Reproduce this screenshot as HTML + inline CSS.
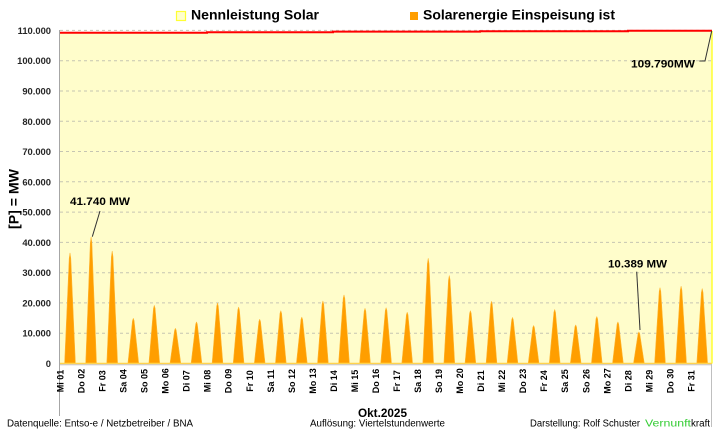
<!DOCTYPE html>
<html><head><meta charset="utf-8"><style>
html,body{margin:0;padding:0;background:#fff;}
svg{display:block;font-family:"Liberation Sans",sans-serif;}
</style></head><body>
<svg width="718" height="430" viewBox="0 0 718 430" xmlns="http://www.w3.org/2000/svg">
<rect width="718" height="430" fill="#fff"/>
<!-- area fill -->
<path d="M59.5,32.8 L207,32.8 L207,32.2 L333,32.2 L333,31.6 L480,31.6 L480,31.2 L628,31.2 L628,30.8 L712,30.8 L712,363.5 L59.5,363.5 Z" fill="#FFFDCB"/>
<!-- gridlines -->
<g stroke="#C6C5B2" stroke-width="1" stroke-dasharray="3,3">
<line x1="60" y1="333.2" x2="711" y2="333.2"/>
<line x1="60" y1="302.9" x2="711" y2="302.9"/>
<line x1="60" y1="272.7" x2="711" y2="272.7"/>
<line x1="60" y1="242.4" x2="711" y2="242.4"/>
<line x1="60" y1="212.1" x2="711" y2="212.1"/>
<line x1="60" y1="181.8" x2="711" y2="181.8"/>
<line x1="60" y1="151.5" x2="711" y2="151.5"/>
<line x1="60" y1="121.3" x2="711" y2="121.3"/>
<line x1="60" y1="91.0" x2="711" y2="91.0"/>
<line x1="60" y1="60.7" x2="711" y2="60.7"/>
<line x1="60" y1="30.4" x2="711" y2="30.4"/>
</g>
<!-- peaks -->
<g fill="#FF9E00" stroke="#FFB52E" stroke-width="0.6" stroke-linejoin="round">
<path d="M64.6,363.5L69.2,258.5L70,253L70.8,258.5L75.4,363.5Z"/>
<path d="M85.7,363.5L90.3,243.4L91.1,237.1L91.9,243.4L96.5,363.5Z"/>
<path d="M106.8,363.5L111.4,256.8L112.2,251.2L113,256.8L117.6,363.5Z"/>
<path d="M127.9,363.5L132.5,320.7L133.3,318.4L134.1,320.7L138.7,363.5Z"/>
<path d="M148.9,363.5L153.5,308.3L154.3,305.4L155.1,308.3L159.7,363.5Z"/>
<path d="M170,363.5L174.6,330.2L175.4,328.4L176.2,330.2L180.8,363.5Z"/>
<path d="M191.1,363.5L195.7,324.1L196.5,322L197.3,324.1L201.9,363.5Z"/>
<path d="M212.1,363.5L216.7,306.2L217.5,303.2L218.3,306.2L222.9,363.5Z"/>
<path d="M233.2,363.5L237.8,310L238.6,307.2L239.4,310L244,363.5Z"/>
<path d="M254.3,363.5L258.9,321.5L259.7,319.3L260.5,321.5L265.1,363.5Z"/>
<path d="M275.4,363.5L280,313.4L280.8,310.8L281.6,313.4L286.2,363.5Z"/>
<path d="M296.4,363.5L301,319.5L301.8,317.2L302.6,319.5L307.2,363.5Z"/>
<path d="M317.5,363.5L322.1,304.2L322.9,301.1L323.7,304.2L328.3,363.5Z"/>
<path d="M338.6,363.5L343.2,298.5L344,295.1L344.8,298.5L349.4,363.5Z"/>
<path d="M359.6,363.5L364.2,311.2L365,308.4L365.8,311.2L370.4,363.5Z"/>
<path d="M380.7,363.5L385.3,310.6L386.1,307.8L386.9,310.6L391.5,363.5Z"/>
<path d="M401.8,363.5L406.4,314.9L407.2,312.3L408,314.9L412.6,363.5Z"/>
<path d="M422.8,363.5L427.4,263.7L428.2,258.4L429,263.7L433.6,363.5Z"/>
<path d="M443.9,363.5L448.5,280.1L449.3,275.7L450.1,280.1L454.7,363.5Z"/>
<path d="M465,363.5L469.6,313.4L470.4,310.8L471.2,313.4L475.8,363.5Z"/>
<path d="M486.1,363.5L490.7,304.5L491.5,301.4L492.3,304.5L496.9,363.5Z"/>
<path d="M507.1,363.5L511.7,319.8L512.5,317.5L513.3,319.8L517.9,363.5Z"/>
<path d="M528.2,363.5L532.8,327.5L533.6,325.6L534.4,327.5L539,363.5Z"/>
<path d="M549.3,363.5L553.9,312.3L554.7,309.6L555.5,312.3L560.1,363.5Z"/>
<path d="M570.3,363.5L574.9,326.9L575.7,325L576.5,326.9L581.1,363.5Z"/>
<path d="M591.4,363.5L596,318.9L596.8,316.6L597.6,318.9L602.2,363.5Z"/>
<path d="M612.5,363.5L617.1,324.1L617.9,322L618.7,324.1L623.3,363.5Z"/>
<path d="M633.5,363.5L638.1,333.6L638.9,332L639.7,333.6L644.3,363.5Z"/>
<path d="M654.6,363.5L659.2,291.6L660,287.8L660.8,291.6L665.4,363.5Z"/>
<path d="M675.7,363.5L680.3,290.2L681.1,286.3L681.9,290.2L686.5,363.5Z"/>
<path d="M696.8,363.5L701.4,292.4L702.2,288.7L703,292.4L707.6,363.5Z"/>
</g>
<!-- red capacity line -->
<path d="M59.5,32.8 L207,32.8 L207,32.2 L333,32.2 L333,31.6 L480,31.6 L480,31.2 L628,31.2 L628,30.8 L712,30.8" fill="none" stroke="#FF0000" stroke-width="2"/>
<line x1="712" y1="31" x2="712" y2="363.5" stroke="#FFFF33" stroke-width="1.5"/>
<!-- axes -->
<line x1="59.5" y1="363.5" x2="712" y2="363.5" stroke="#FFD34E" stroke-width="1.5"/>
<line x1="59.5" y1="364.8" x2="712" y2="364.8" stroke="#BDBDC8" stroke-width="0.8"/>
<line x1="59.5" y1="30" x2="59.5" y2="416" stroke="#A6A6A6" stroke-width="1"/>
<line x1="711.5" y1="364" x2="711.5" y2="427" stroke="#BFBFBF" stroke-width="1"/>
<!-- y tick labels -->
<g font-size="9.4" font-weight="bold" fill="#262626" text-anchor="end" dominant-baseline="central">
<text x="51" y="363.5">0</text>
<text x="51" y="333.2">10.000</text>
<text x="51" y="302.9">20.000</text>
<text x="51" y="272.7">30.000</text>
<text x="51" y="242.4">40.000</text>
<text x="51" y="212.1">50.000</text>
<text x="51" y="181.8">60.000</text>
<text x="51" y="151.5">70.000</text>
<text x="51" y="121.3">80.000</text>
<text x="51" y="91.0">90.000</text>
<text x="51" y="60.7">100.000</text>
<text x="51" y="30.4">110.000</text>
</g>
<!-- y axis title -->
<text transform="translate(18.5,199) rotate(-90)" font-size="14" font-weight="bold" fill="#000" text-anchor="middle" textLength="60" lengthAdjust="spacingAndGlyphs">[P]  =  MW</text>
<!-- x labels -->
<g font-size="9" font-weight="bold" fill="#000" text-anchor="middle" dominant-baseline="central">
<text transform="translate(60.5,381) rotate(-90)">Mi 01</text>
<text transform="translate(81.5,381) rotate(-90)">Do 02</text>
<text transform="translate(102.6,381) rotate(-90)">Fr 03</text>
<text transform="translate(123.6,381) rotate(-90)">Sa 04</text>
<text transform="translate(144.6,381) rotate(-90)">So 05</text>
<text transform="translate(165.7,381) rotate(-90)">Mo 06</text>
<text transform="translate(186.7,381) rotate(-90)">Di 07</text>
<text transform="translate(207.7,381) rotate(-90)">Mi 08</text>
<text transform="translate(228.7,381) rotate(-90)">Do 09</text>
<text transform="translate(249.8,381) rotate(-90)">Fr 10</text>
<text transform="translate(270.8,381) rotate(-90)">Sa 11</text>
<text transform="translate(291.8,381) rotate(-90)">So 12</text>
<text transform="translate(312.9,381) rotate(-90)">Mo 13</text>
<text transform="translate(333.9,381) rotate(-90)">Di 14</text>
<text transform="translate(354.9,381) rotate(-90)">Mi 15</text>
<text transform="translate(376.0,381) rotate(-90)">Do 16</text>
<text transform="translate(397.0,381) rotate(-90)">Fr 17</text>
<text transform="translate(418.0,381) rotate(-90)">Sa 18</text>
<text transform="translate(439.0,381) rotate(-90)">So 19</text>
<text transform="translate(460.1,381) rotate(-90)">Mo 20</text>
<text transform="translate(481.1,381) rotate(-90)">Di 21</text>
<text transform="translate(502.1,381) rotate(-90)">Mi 22</text>
<text transform="translate(523.2,381) rotate(-90)">Do 23</text>
<text transform="translate(544.2,381) rotate(-90)">Fr 24</text>
<text transform="translate(565.2,381) rotate(-90)">Sa 25</text>
<text transform="translate(586.3,381) rotate(-90)">So 26</text>
<text transform="translate(607.3,381) rotate(-90)">Mo 27</text>
<text transform="translate(628.3,381) rotate(-90)">Di 28</text>
<text transform="translate(649.3,381) rotate(-90)">Mi 29</text>
<text transform="translate(670.4,381) rotate(-90)">Do 30</text>
<text transform="translate(691.4,381) rotate(-90)">Fr 31</text>
</g>
<!-- legend -->
<rect x="176.5" y="11.5" width="9" height="9" fill="#FFFFCC" stroke="#FFFF33" stroke-width="1.2"/>
<text x="191" y="19.5" font-size="14" font-weight="bold" fill="#000" textLength="128" lengthAdjust="spacingAndGlyphs">Nennleistung Solar</text>
<rect x="410" y="12" width="8" height="8" fill="#FF9E00"/>
<text x="423" y="19.5" font-size="14" font-weight="bold" fill="#000" textLength="192" lengthAdjust="spacingAndGlyphs">Solarenergie Einspeisung ist</text>
<!-- annotations -->
<g stroke="#333" stroke-width="1" fill="none">
<line x1="100" y1="211" x2="92.3" y2="236.7"/>
<line x1="636.7" y1="271.7" x2="640" y2="330"/>
<polyline points="699.3,61 705,61 711.7,31"/>
</g>
<g font-size="11" font-weight="bold" fill="#000">
<text x="70" y="205" textLength="60" lengthAdjust="spacingAndGlyphs">41.740 MW</text>
<text x="608" y="267.3" textLength="59" lengthAdjust="spacingAndGlyphs">10.389 MW</text>
<text x="631" y="67.7" textLength="64" lengthAdjust="spacingAndGlyphs">109.790MW</text>
</g>
<!-- footer -->
<g font-size="10" fill="#000">
<text x="7" y="426.5" textLength="186" lengthAdjust="spacingAndGlyphs">Datenquelle:  Entso-e  / Netzbetreiber / BNA</text>
<text x="358" y="417" font-size="11.5" font-weight="bold" textLength="49" lengthAdjust="spacingAndGlyphs">Okt.2025</text>
<text x="310" y="426.5" textLength="135" lengthAdjust="spacingAndGlyphs">Auflösung: Viertelstundenwerte</text>
<text x="530" y="426.5" textLength="110" lengthAdjust="spacingAndGlyphs">Darstellung:  Rolf Schuster</text>
<text x="645" y="426.5" fill="#33CC33" textLength="46" lengthAdjust="spacingAndGlyphs">Vernunft</text>
<text x="691" y="426.5" textLength="19" lengthAdjust="spacingAndGlyphs">kraft</text>
</g>
</svg>
</body></html>
